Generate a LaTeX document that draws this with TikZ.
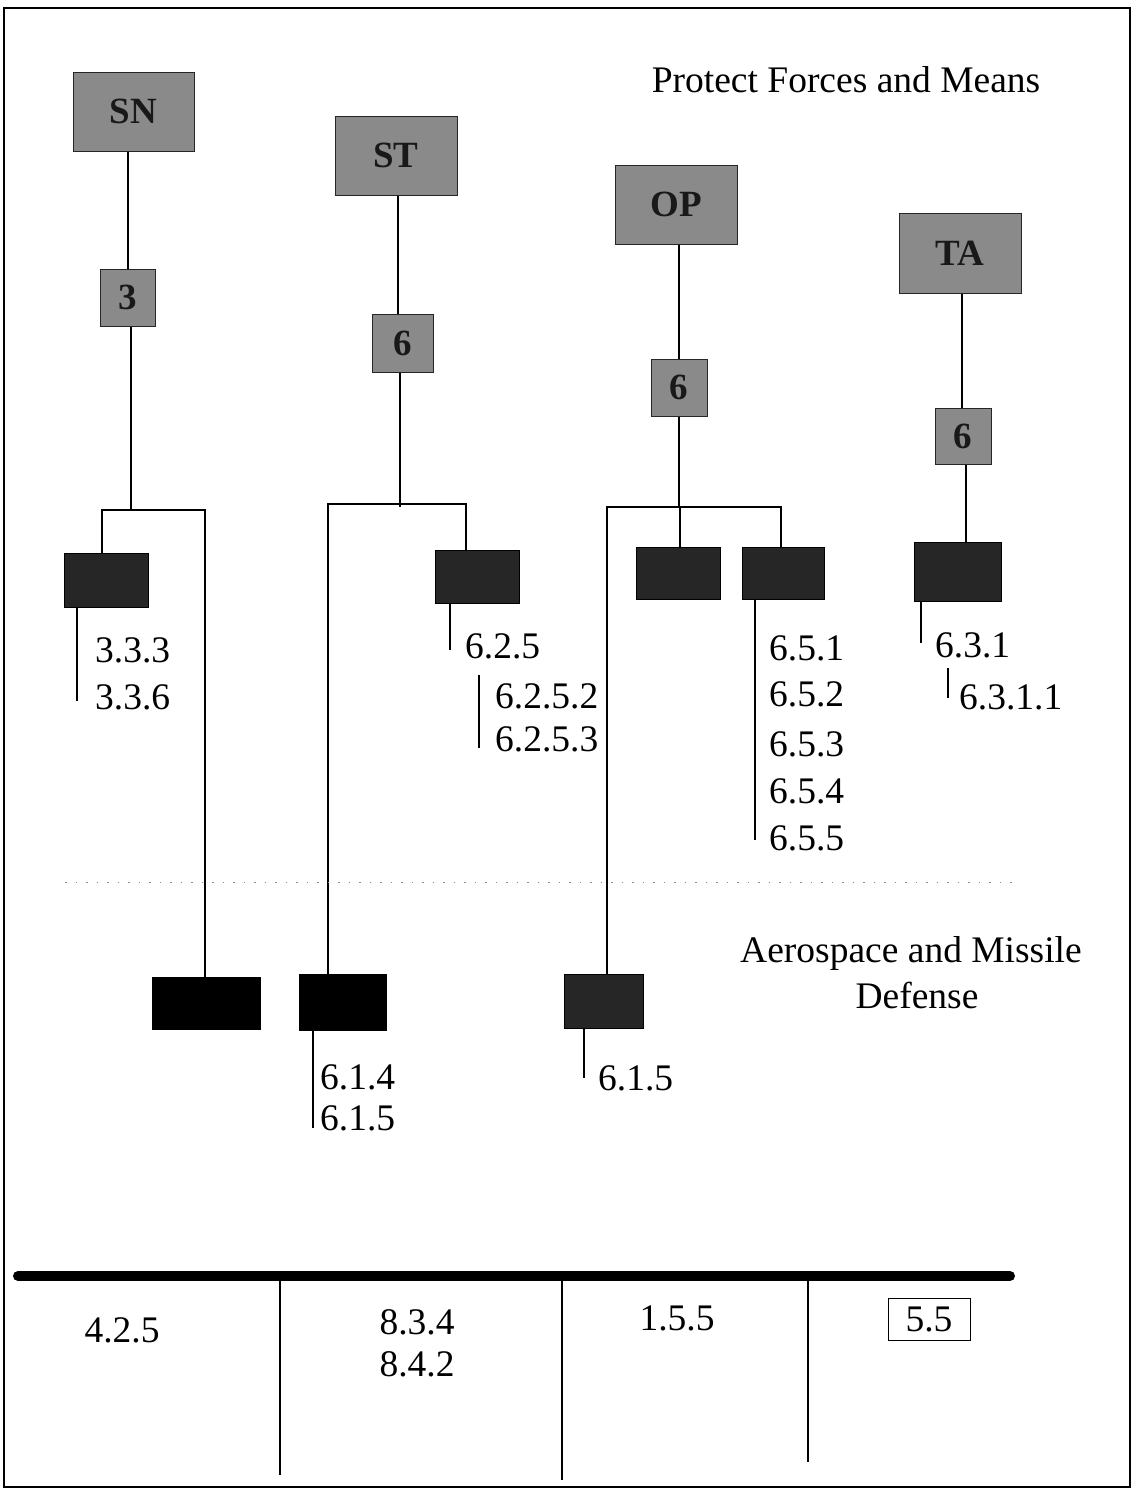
\documentclass[tikz,border=0pt]{standalone}
\usepackage{fontspec}
\setmainfont{Liberation Serif}
\begin{document}
\begin{tikzpicture}[x=1pt,y=-1pt,
  conn/.style={line width=2pt,black},
  thin/.style={line width=1.4pt,black},
  topbox/.style={draw=black!85,line width=1pt,fill=black!46,inner sep=0pt,
    font=\bfseries\fontsize{37}{40}\selectfont,text=black!90},
  subbox/.style={draw=black,line width=1pt,fill=black!85,inner sep=0pt},
  leafbox/.style={draw=black,line width=1pt,fill=black,inner sep=0pt},
  lbl/.style={inner sep=0pt,anchor=west,font=\fontsize{37.5}{40}\selectfont},
  clbl/.style={inner sep=0pt,font=\fontsize{37.5}{40}\selectfont}]
\useasboundingbox (0,0) rectangle (1134,1491);
\draw[line width=2pt] (4,8) rectangle (1130,1487);

% top boxes
\node[topbox,minimum width=121pt,minimum height=79pt] (sn) at (133.5,111.5) {SN};
\node[topbox,minimum width=55pt,minimum height=57pt] (sn3) at (127.5,297.5) {3};
\node[topbox,minimum width=122pt,minimum height=79pt] (st) at (396,155.5) {ST};
\node[topbox,minimum width=61pt,minimum height=58pt] (st6) at (402.5,343) {6};
\node[topbox,minimum width=122pt,minimum height=79pt] (op) at (676,204.5) {OP};
\node[topbox,minimum width=56pt,minimum height=57pt] (op6) at (679,387.5) {6};
\node[topbox,minimum width=122pt,minimum height=80pt] (ta) at (960,253) {TA};
\node[topbox,minimum width=56pt,minimum height=56pt] (ta6) at (963,436) {6};

% sub boxes
\node[subbox,minimum width=84pt,minimum height=54pt] (snA) at (106,580) {};
\node[subbox,minimum width=84pt,minimum height=53pt] (stA) at (477,576.5) {};
\node[subbox,minimum width=84pt,minimum height=52pt] (opA) at (678,573) {};
\node[subbox,minimum width=82pt,minimum height=52pt] (opB) at (783,573) {};
\node[subbox,minimum width=87pt,minimum height=59pt] (taA) at (957.5,571.5) {};

% leaf boxes
\node[leafbox,minimum width=108pt,minimum height=52pt] (lfA) at (206,1003) {};
\node[leafbox,minimum width=87pt,minimum height=56pt] (lfB) at (342.5,1002) {};
\node[subbox,minimum width=79pt,minimum height=54pt] (lfC) at (603.5,1001) {};

% top-level connectors
\draw[conn] (sn3.north) -- (sn3.north |- sn.south);
\draw[conn] (st6.north -| 398,0) -- (st.south -| 398,0);
\draw[conn] (op6.north) -- (op6.north |- op.south);
\draw[conn] (ta6.north -| 962,0) -- (ta.south -| 962,0);
\draw[conn] (ta6.south -| 966,0) -- (taA.north -| 966,0);

% branch bars
\coordinate (snL) at (102,510); \coordinate (snR) at (205,510);
\draw[conn] (sn3.south -| 131,0) -- (131,510);
\draw[thin] (snA.north -| snL) -- (snL) -- (snR) -- (lfA.north -| snR);

\coordinate (stL) at (328,504); \coordinate (stR) at (466,504);
\draw[conn] (st6.south -| 400,0) -- (400,507);
\draw[thin] (lfB.north -| stL) -- (stL) -- (stR) -- (stA.north -| stR);

\coordinate (opL) at (607,507); \coordinate (opR) at (781,507);
\draw[conn] (op6.south) -- (op6.south |- opL);
\draw[thin] (lfC.north -| opL) -- (opL) -- (opR) -- (opB.north -| opR);
\draw[thin] (opA.north -| 680,0) -- (680,507);

% hanging lines and labels
\draw[thin] (snA.south -| 77,0) -- (77,701);
\node[lbl] (t333) at (95,650) {3.3.3};
\node[lbl] (t336) at (95,697) {3.3.6};

\draw[thin] (stA.south -| 450,0) -- (450,650);
\node[lbl] (t625) at (465,646) {6.2.5};
\coordinate (s625) at (479,675);
\draw[thin] (s625) -- (479,748);
\node[lbl] (t6252) at (495,696) {6.2.5.2};
\node[lbl] (t6253) at (495,739) {6.2.5.3};

\draw[thin] (opB.south -| 755,0) -- (755,840);
\node[lbl] (t651) at (769,648) {6.5.1};
\node[lbl] (t652) at (769,694) {6.5.2};
\node[lbl] (t653) at (769,744) {6.5.3};
\node[lbl] (t654) at (769,791) {6.5.4};
\node[lbl] (t655) at (769,838) {6.5.5};

\draw[thin] (taA.south -| 921,0) -- (921,643);
\node[lbl] (t631) at (935,645) {6.3.1};
\coordinate (s631) at (948,668);
\draw[thin] (s631) -- (948,698);
\node[lbl] (t6311) at (959,697) {6.3.1.1};

\draw[thin] (lfB.south -| 313,0) -- (313,1128);
\node[lbl] (t614) at (320,1077) {6.1.4};
\node[lbl] (t615) at (320,1118) {6.1.5};

\draw[thin] (lfC.south -| 584,0) -- (584,1078);
\node[lbl] (t615b) at (598,1078) {6.1.5};

% titles
\node[clbl] (title) at (846,80) {Protect Forces and Means};
\node[clbl] (aero1) at (911,953) {Aerospace and Missile};
\node[clbl] (aero2) at (917,995) {Defense};

% dotted separator
\draw[black!45,line width=1pt,dash pattern=on 1.5pt off 9pt] (65,882) -- (1020,882);

% bottom table
\draw[line width=10pt,line cap=round] (18,1276) -- (1010,1276);
\draw[thin] (280,1281) -- (280,1475);
\draw[thin] (562,1281) -- (562,1480);
\draw[thin] (808,1281) -- (808,1462);
\node[clbl] (b1) at (122,1330) {4.2.5};
\node[clbl] (b2) at (417,1322) {8.3.4};
\node[clbl] (b3) at (417,1364) {8.4.2};
\node[clbl] (b4) at (677,1318) {1.5.5};
\node[clbl,draw=black,line width=1pt,minimum width=82pt,minimum height=42pt] (b5) at (929,1319) {5.5};
\end{tikzpicture}
\end{document}
